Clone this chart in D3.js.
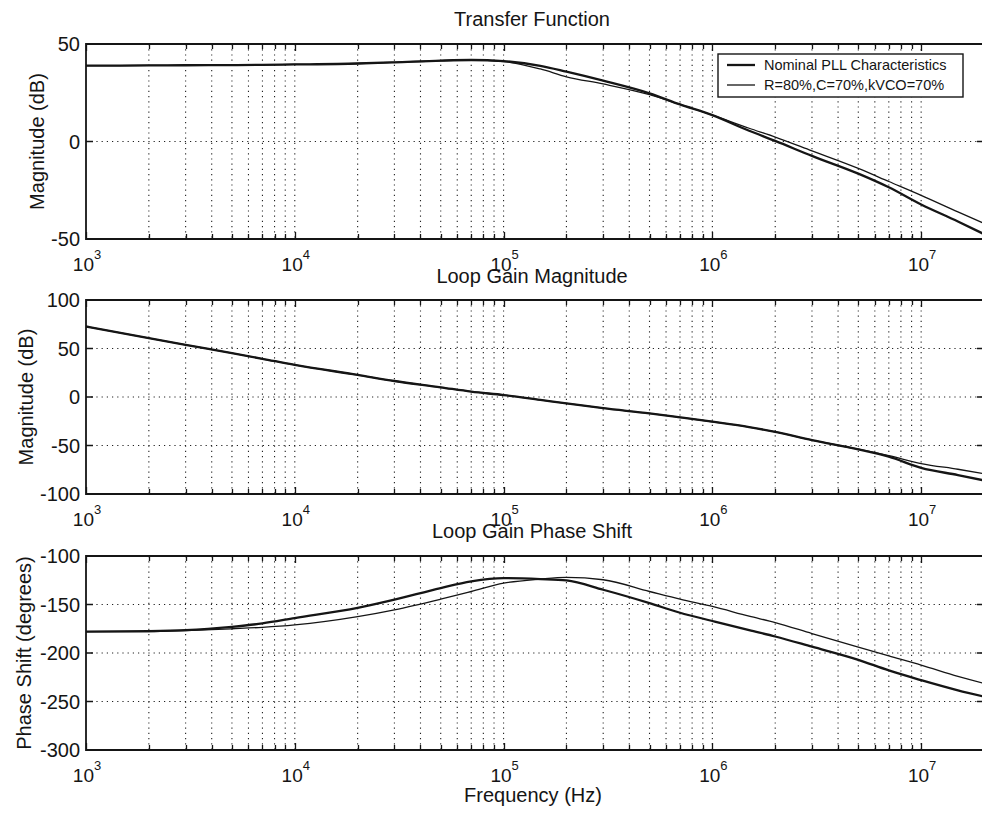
<!DOCTYPE html>
<html>
<head>
<meta charset="utf-8">
<script src="https://cdn.jsdelivr.net/npm/d3@7"></script>
<style>
  body { margin: 0; background: #fff; }
  svg { display: block; font-family: "Liberation Sans", Arial, sans-serif; }
</style>
</head>
<body>
<div id="chart"></div>
<script>
// Frequency points (Hz)
const freq = [1e3, 2e3, 3e3, 5e3, 7e3, 1e4, 2e4, 3e4, 5e4, 7e4, 1e5, 1.5e5, 2e5, 3e5, 5e5, 7e5,
              1e6, 1.5e6, 2e6, 3e6, 5e6, 7e6, 1e7, 1.5e7, 2e7];

// Transfer function magnitude (dB)
const tfNominal = [38.9, 39.0, 39.1, 39.2, 39.3, 39.5, 40.0, 40.6, 41.5, 41.8, 41.2, 38.8, 35.8, 31.2, 24.7, 19.0,
                   13.5, 5.5, 0.3, -7.4, -16.5, -23.5, -32.3, -41.0, -47.5];
const tfVariant = [38.9, 39.0, 39.1, 39.2, 39.3, 39.5, 40.0, 40.6, 41.4, 41.7, 41.0, 37.2, 33.2, 29.5, 24.0, 19.0,
                   13.5, 6.8, 2.3, -4.8, -13.8, -20.5, -27.6, -36.1, -42.0];

// Loop gain magnitude (dB)
const lgNominal = [72.7, 60.7, 53.8, 45.2, 39.4, 33.1, 22.8, 16.5, 10.0, 5.5, 2.0, -3.0, -6.5, -11.5, -16.9, -21.0,
                   -25.5, -31.0, -36.0, -44.5, -54.0, -61.5, -73.0, -80.5, -86.0];
const lgVariant = [72.7, 60.7, 53.8, 45.2, 39.4, 33.1, 22.8, 16.5, 10.0, 5.5, 2.0, -3.0, -6.5, -11.5, -16.9, -21.0,
                   -25.5, -31.0, -36.0, -44.5, -53.8, -60.5, -68.6, -74.5, -79.0];

// Loop gain phase (degrees)
const phNominal = [-178, -177.5, -176.5, -173, -169.5, -164, -153.5, -145, -133, -126.2, -122.8, -123.8, -125.2, -134.8, -148.6, -158.5,
                   -167, -176.5, -183, -193.5, -207, -218, -228, -238.5, -245];
const phVariant = [-178, -178, -177, -175, -173.5, -171, -162.5, -155.5, -144.5, -136.6, -128, -123.8, -122.1, -124.5, -136.6, -144.5,
                   -152, -162, -168.6, -180, -194, -203, -212.4, -224, -231.3];

const xTickExp = [3, 4, 5, 6, 7];
const yTicks1 = [-50, 0, 50];
const yTicks2 = [-100, -50, 0, 50, 100];
const yTicks3 = [-300, -250, -200, -150, -100];

const legendLabels = ["Nominal PLL Characteristics", "R=80%,C=70%,kVCO=70%"];

const width = 982, height = 813;
const left = 86, right = 984;
const ink = "#151515";
const midX = 532;

const svg = d3.select("#chart").append("svg")
    .attr("width", width).attr("height", height);

const x = d3.scaleLog().domain([1e3, 2e7]).range([left, right]);

const panels = [
    { title: "Transfer Function", ylabel: "Magnitude (dB)", domain: [-50, 50], ticks: yTicks1,
      nominal: tfNominal, variant: tfVariant, top: 44, bottom: 239, titleY: 26, ylabelX: 37 },
    { title: "Loop Gain Magnitude", ylabel: "Magnitude (dB)", domain: [-100, 100], ticks: yTicks2,
      nominal: lgNominal, variant: lgVariant, top: 300, bottom: 494, titleY: 283, ylabelX: 26 },
    { title: "Loop Gain Phase Shift", ylabel: "Phase Shift (degrees)", domain: [-300, -100], ticks: yTicks3,
      nominal: phNominal, variant: phVariant, top: 556, bottom: 750, titleY: 538, ylabelX: 24 }
];

// minor + major x grid positions
const xGrid = [];
for (let e = 3; e <= 7; e++) {
    for (let m = 1; m <= 9; m++) {
        const v = m * Math.pow(10, e);
        if (v <= 2e7) xGrid.push({ v, major: m === 1 });
    }
}

panels.forEach((p, i) => {
    const y = d3.scaleLinear().domain(p.domain).range([p.bottom, p.top]);
    const g = svg.append("g");

    g.append("clipPath").attr("id", "clip" + i)
        .append("rect").attr("x", left).attr("y", p.top)
        .attr("width", right - left).attr("height", p.bottom - p.top);

    // grid
    g.append("g").selectAll("line").data(xGrid.filter(d => d.v > 1e3)).join("line")
        .attr("x1", d => x(d.v)).attr("x2", d => x(d.v))
        .attr("y1", p.top).attr("y2", p.bottom)
        .attr("stroke", "#222").attr("stroke-width", 1.1)
        .attr("stroke-dasharray", "1.2,4");
    g.append("g").selectAll("line").data(p.ticks.slice(1, -1)).join("line")
        .attr("x1", left).attr("x2", right)
        .attr("y1", d => y(d)).attr("y2", d => y(d))
        .attr("stroke", "#222").attr("stroke-width", 1.1)
        .attr("stroke-dasharray", "1.2,4");

    // ticks (inward, top and bottom / left and right)
    g.append("g").selectAll("path").data(xGrid).join("path")
        .attr("d", d => {
            const len = d.major ? 7 : 5;
            const xx = Math.round(x(d.v)) + 0.5;
            return `M${xx},${p.bottom}v${-len}M${xx},${p.top}v${len}`;
        })
        .attr("stroke", ink).attr("stroke-width", 1.3);
    g.append("g").selectAll("path").data(p.ticks).join("path")
        .attr("d", d => `M${left},${y(d)}h7M${right},${y(d)}h-7`)
        .attr("stroke", ink).attr("stroke-width", 1.3);

    // box
    g.append("path")
        .attr("d", `M${right},${p.top}H${left}V${p.bottom}H${right}V${p.top}`)
        .attr("fill", "none").attr("stroke", ink).attr("stroke-width", 1.8);

    // curves
    const line = d3.line()
        .x((d, j) => x(freq[j]))
        .y(d => y(d))
        .curve(d3.curveMonotoneX);
    const curves = g.append("g").attr("clip-path", `url(#clip${i})`).attr("fill", "none");
    curves.append("path").attr("d", line(p.variant))
        .attr("stroke", ink).attr("stroke-width", 1.3);
    curves.append("path").attr("d", line(p.nominal))
        .attr("stroke", ink).attr("stroke-width", 2.3);

    // y tick labels
    g.append("g").selectAll("text").data(p.ticks).join("text")
        .attr("x", left - 6).attr("y", d => y(d))
        .attr("dy", "0.36em")
        .attr("text-anchor", "end")
        .attr("font-size", 20).attr("fill", ink)
        .text(d => d);

    // x tick labels 10^n
    const xl = g.append("g").selectAll("text").data(xTickExp).join("text")
        .attr("x", d => x(Math.pow(10, d)) + 1)
        .attr("y", p.bottom + 32)
        .attr("text-anchor", "middle")
        .attr("font-size", 19).attr("fill", ink);
    xl.append("tspan").text("10");
    xl.append("tspan").attr("dy", -12).attr("font-size", 13).text(d => d);

    // title
    g.append("text")
        .attr("x", midX).attr("y", p.titleY)
        .attr("text-anchor", "middle")
        .attr("font-size", 20).attr("fill", ink)
        .text(p.title);

    // y label
    g.append("text")
        .attr("transform", `translate(${p.ylabelX},${(p.top + p.bottom) / 2}) rotate(-90)`)
        .attr("dy", "0.36em")
        .attr("text-anchor", "middle")
        .attr("font-size", 20).attr("fill", ink)
        .text(p.ylabel);
});

// x axis label
svg.append("text")
    .attr("x", 533).attr("y", 802)
    .attr("text-anchor", "middle")
    .attr("font-size", 20).attr("fill", ink)
    .text("Frequency (Hz)");

// legend
const lg = svg.append("g").attr("transform", "translate(718,54)");
lg.append("rect").attr("width", 245).attr("height", 43)
    .attr("fill", "#fff").attr("stroke", ink).attr("stroke-width", 1.4);
legendLabels.forEach((t, k) => {
    const yy = 11 + k * 20;
    lg.append("line").attr("x1", 9).attr("x2", 37).attr("y1", yy).attr("y2", yy)
        .attr("stroke", ink).attr("stroke-width", k === 0 ? 2.3 : 1.3);
    lg.append("text").attr("x", 46).attr("y", yy).attr("dy", "0.36em")
        .attr("font-size", 14.5).attr("fill", ink).text(t);
});
</script>
</body>
</html>
